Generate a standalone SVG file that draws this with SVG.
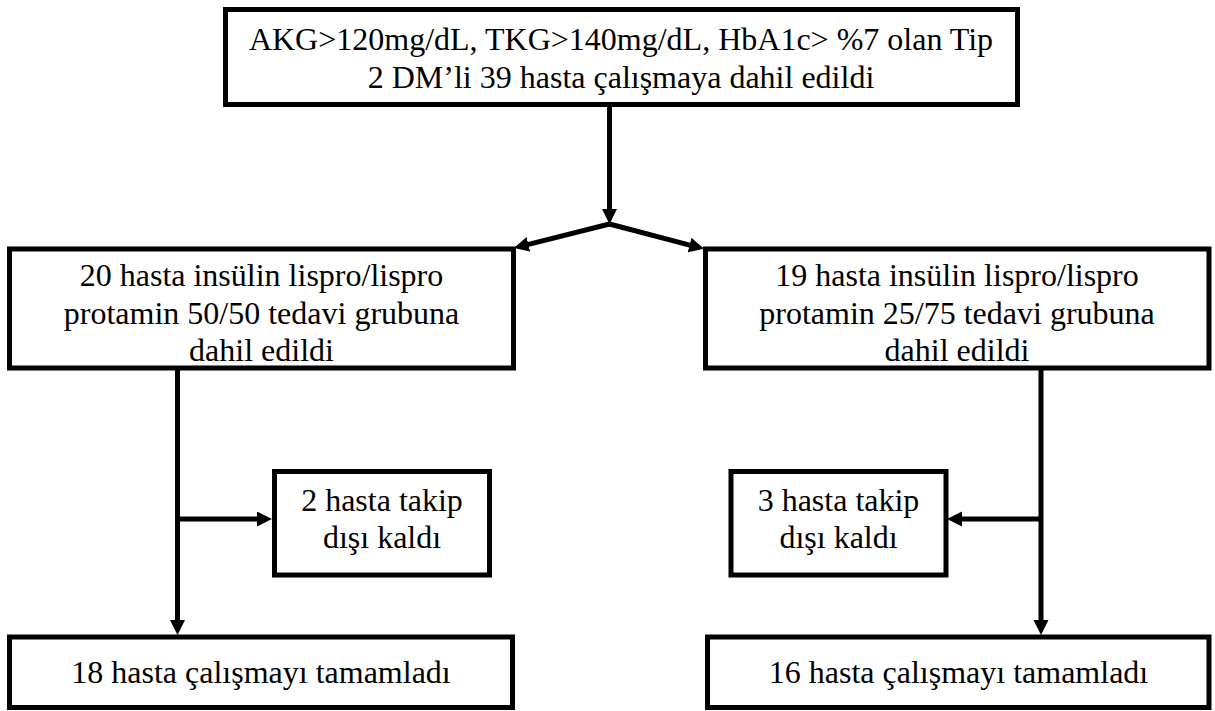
<svg xmlns="http://www.w3.org/2000/svg" width="1215" height="711" viewBox="0 0 1215 711">
<style>
.box{fill:#fff;stroke:#000;stroke-width:5}
.t{font-family:"Liberation Serif","Times New Roman",serif;font-size:32px;fill:#000;text-anchor:middle}
.c{stroke:#000;stroke-width:5;fill:none;marker-end:url(#ah)}
</style>
<defs>
<marker id="ah" markerUnits="userSpaceOnUse" markerWidth="16" markerHeight="16" refX="5" refY="7.5" orient="auto">
<path d="M0,0 L15,7.5 L0,15 z" fill="#000"/>
</marker>
</defs>
<rect width="1215" height="711" fill="#fff"/>
<g id="connectors">
<path class="c" d="M609.5,105 V214"/>
<path class="c" d="M609.5,224 L523.6,245.6"/>
<path class="c" d="M609.5,224 L694.4,246.3"/>
<path class="c" d="M177.5,368 V625"/>
<path class="c" d="M1041,368 V625"/>
<path class="c" d="M177.5,519 H262"/>
<path class="c" d="M1041,519 H957"/>
</g>
<g id="n_top">
<rect class="box" x="225.5" y="9.5" width="792" height="95"/>
<text class="t" x="621" y="50">AKG&gt;120mg/dL, TKG&gt;140mg/dL, HbA1c&gt; %7 olan Tip</text>
<text class="t" x="621" y="88">2 DM’li 39 hasta çalışmaya dahil edildi</text>
</g>
<g id="n_left">
<rect class="box" x="9.5" y="249" width="504" height="119"/>
<text class="t" x="261.5" y="286">20 hasta insülin lispro/lispro</text>
<text class="t" x="261.5" y="323.5">protamin 50/50 tedavi grubuna</text>
<text class="t" x="261.5" y="361">dahil edildi</text>
</g>
<g id="n_right">
<rect class="box" x="705.5" y="249" width="503.5" height="119"/>
<text class="t" x="957" y="286">19 hasta insülin lispro/lispro</text>
<text class="t" x="957" y="323.5">protamin 25/75 tedavi grubuna</text>
<text class="t" x="957" y="361">dahil edildi</text>
</g>
<g id="n_lost_left">
<rect class="box" x="274.5" y="471.5" width="215" height="103.5"/>
<text class="t" x="382" y="511">2 hasta takip</text>
<text class="t" x="382" y="548">dışı kaldı</text>
</g>
<g id="n_lost_right">
<rect class="box" x="731" y="471.5" width="215" height="103.5"/>
<text class="t" x="838.5" y="511">3 hasta takip</text>
<text class="t" x="838.5" y="548">dışı kaldı</text>
</g>
<g id="n_done_left">
<rect class="box" x="9.5" y="637" width="503" height="70.5"/>
<text class="t" x="261" y="683">18 hasta çalışmayı tamamladı</text>
</g>
<g id="n_done_right">
<rect class="box" x="707.5" y="637" width="501.5" height="70.5"/>
<text class="t" x="958.5" y="683">16 hasta çalışmayı tamamladı</text>
</g>
</svg>
